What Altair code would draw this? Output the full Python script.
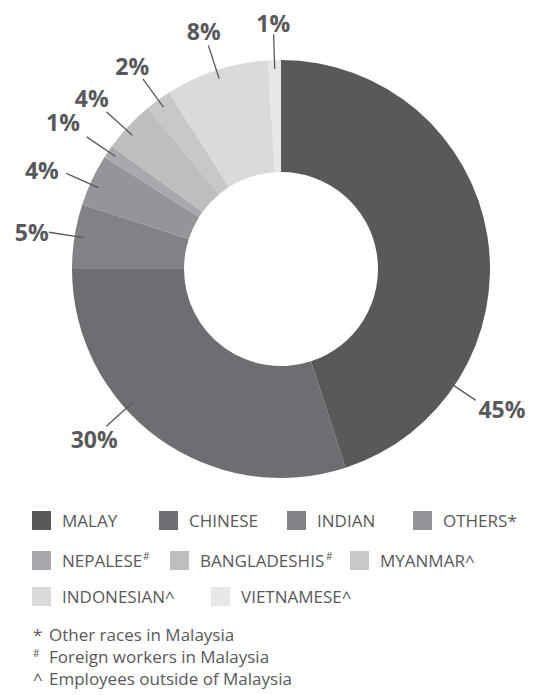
import math
import altair as alt
import pandas as pd

# ---------------- data ----------------
categories = ["MALAY", "CHINESE", "INDIAN", "OTHERS", "NEPALESE",
              "BANGLADESHIS", "MYANMAR", "INDONESIAN", "VIETNAMESE"]
shares = [45, 30, 5, 4, 1, 4, 2, 8, 1]
legend_names = ["MALAY", "CHINESE", "INDIAN", "OTHERS*", "NEPALESE",
                "BANGLADESHIS", "MYANMAR^", "INDONESIAN^", "VIETNAMESE^"]
legend_sups = ["", "", "", "", "#", "#", "", "", ""]
colors = ["#58595b", "#6d6e71", "#808285", "#939598", "#a7a9ac",
          "#bcbec0", "#c7c8ca", "#d9dadb", "#e6e7e8"]
note_marks = ["*", "#", "^"]
note_texts = ["Other races in Malaysia", "Foreign workers in Malaysia",
              "Employees outside of Malaysia"]

# ---------------- layout ----------------
W, H = 529, 687
CX, CY = 273, 261
R_OUT, R_IN = 209, 97
R_L1, R_L2 = 200, 235
LBL_FS = 23
TXT = "#58595b"
FONT = "Open Sans"
label_angle_override = {"MALAY": 124, "CHINESE": 228, "OTHERS": 294, "BANGLADESHIS": 312}
label_nudge = {"MALAY": (5, -5), "CHINESE": (6, -3), "INDIAN": (2, 4),
               "OTHERS": (-6, 6), "NEPALESE": (-7, -3), "MYANMAR": (0, 3)}
legend_x = [24, 151, 279, 405, 24, 162, 342, 24, 203]
legend_row = [0, 0, 0, 0, 1, 1, 1, 2, 2]
row_top = [503, 543, 579]
SQ = 19
legend_sup_dx = [0, 0, 0, 0, 81, 126, 0, 0, 0]
note_x, note_text_x = 25, 41
note_base = [633, 655, 676.5]

# ---------------- donut ----------------
df = pd.DataFrame({"cat": categories, "share": shares, "idx": range(len(categories))})
arcs = alt.Chart(df).mark_arc(radius=R_OUT, radius2=R_IN).encode(
    theta=alt.Theta("share:Q", stack=True,
                    scale=alt.Scale(domain=[0, 100], range=[0, 2 * math.pi])),
    order=alt.Order("idx:Q"),
    color=alt.Color("cat:N", scale=alt.Scale(domain=categories, range=colors), legend=None),
    x=alt.value(CX), y=alt.value(CY),
)

# ---------------- labels & leader lines ----------------
rows = []
cum = 0
for c, s in zip(categories, shares):
    mid = (cum + s / 2) * 3.6
    cum += s
    ang = label_angle_override.get(c, mid)
    a = math.radians(ang)
    sn, cs = math.sin(a), math.cos(a)
    lab = f"{s}%"
    nd = len(str(s))
    hw = LBL_FS * (0.572 * nd + 0.842) / 2
    hh = 0.357 * LBL_FS
    k = hw * abs(sn) + hh * abs(cs) + 2
    rt = R_L2 + k
    nx, ny = label_nudge.get(c, (0, 0))
    rows.append({
        "x1": CX + R_L1 * sn, "y1": CY - R_L1 * cs,
        "x2": CX + R_L2 * sn, "y2": CY - R_L2 * cs,
        "tx": CX + rt * sn + nx, "ty": CY - rt * cs + hh + ny,
        "lab": lab,
    })
ldf = pd.DataFrame(rows)

lines = alt.Chart(ldf).mark_rule(color=TXT, strokeWidth=1.3).encode(
    x=alt.X("x1:Q", scale=None), y=alt.Y("y1:Q", scale=None),
    x2="x2:Q", y2="y2:Q",
)
labels = alt.Chart(ldf).mark_text(
    font=FONT, fontWeight="bold", fontSize=LBL_FS, color=TXT,
    align="center", baseline="alphabetic",
).encode(x=alt.X("tx:Q", scale=None), y=alt.Y("ty:Q", scale=None), text="lab:N")

# ---------------- legend ----------------
leg = pd.DataFrame({
    "cat": categories, "name": legend_names, "sup": legend_sups,
    "sx": legend_x,
    "sy": [row_top[r] for r in legend_row],
})
leg["sx2"] = leg["sx"] + SQ
leg["sy2"] = leg["sy"] + SQ
leg["tx"] = leg["sx"] + 30
leg["ty"] = leg["sy"] + 16
leg["px"] = leg["tx"] + pd.Series(legend_sup_dx)
leg["py"] = leg["ty"] - 7

leg_rects = alt.Chart(leg).mark_rect().encode(
    x=alt.X("sx:Q", scale=None), x2="sx2:Q",
    y=alt.Y("sy:Q", scale=None), y2="sy2:Q",
    color=alt.Color("cat:N", scale=alt.Scale(domain=categories, range=colors), legend=None),
)
leg_text = alt.Chart(leg).mark_text(
    font=FONT, fontSize=17, color=TXT, align="left", baseline="alphabetic",
).encode(x=alt.X("tx:Q", scale=None), y=alt.Y("ty:Q", scale=None), text="name:N")
leg_sup = alt.Chart(leg[leg["sup"] != ""]).mark_text(
    font=FONT, fontSize=10, color=TXT, align="left", baseline="alphabetic",
).encode(x=alt.X("px:Q", scale=None), y=alt.Y("py:Q", scale=None), text="sup:N")

# ---------------- footnotes ----------------
notes = pd.DataFrame({"mark": note_marks, "text": note_texts, "base": note_base})
notes["mx"] = note_x
notes["tx"] = note_text_x
notes["msize"] = [17, 10, 17]
notes["mbase"] = [b - (6 if m == "#" else 0) for m, b in zip(note_marks, note_base)]

note_mark = alt.Chart(notes).mark_text(
    font=FONT, color=TXT, align="left", baseline="alphabetic",
).encode(
    x=alt.X("mx:Q", scale=None), y=alt.Y("mbase:Q", scale=None), text="mark:N",
    size=alt.Size("msize:Q", scale=None, legend=None),
)
note_text = alt.Chart(notes).mark_text(
    font=FONT, fontSize=17, color=TXT, align="left", baseline="alphabetic",
).encode(x=alt.X("tx:Q", scale=None), y=alt.Y("base:Q", scale=None), text="text:N")

chart = alt.layer(
    arcs, lines, labels, leg_rects, leg_text, leg_sup, note_mark, note_text
).properties(
    width=W, height=H, padding=0, autosize=alt.AutoSizeParams(type="none"),
    background="white",
).configure_view(stroke=None)

chart.save("out.html", embed_options={"renderer": "svg", "actions": False})
